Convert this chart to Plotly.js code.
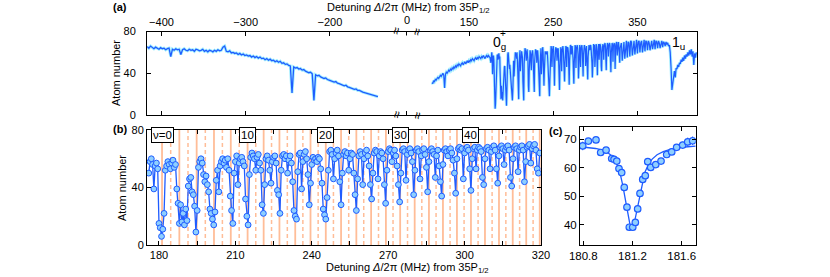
<!DOCTYPE html>
<html><head><meta charset="utf-8">
<script src="https://cdn.plot.ly/plotly-3.0.1.min.js"></script>
<style>html,body{margin:0;padding:0;background:#fff}#chart{width:830px;height:277px}</style>
</head><body><div id="chart"></div>
<script>
// ---------- DATA ----------
// Panel (a), left segment: detuning start / step (MHz) and atom numbers
const aLeftStart = -417, aLeftStep = 2;
const aLeftY = [
65.5,64,66,64.5,63.5,65,64,63,64.5,63.5,
64,62.5,63.5,64,56,63,62,63.5,62.5,63,
58,62.5,63.5,62,61.5,63,62,62.5,61,63,
62.5,61.5,62,63,61,62,60.5,62,61.5,60.5,
62,61,62.5,61.5,62,65,66,61,60.5,61.5,
59.5,60,59,59.5,58,59,57.5,58.5,57,57.5,
56.5,57,55.5,56.5,55,56,54.5,55.5,54,54.5,
53,54,52.5,53.5,52,52.5,51,52,50.5,51.5,
49.5,50,48.5,49,47.5,47,21,46,45,45.5,
44,44.5,43,43.5,42,41.5,40.5,41,39.5,14,
38.5,37.5,38,36.5,36,35,35.5,34,33.5,33,
32.5,31.5,32,30.5,30,29.5,29,28,28.5,27,
26.5,26,25.5,24.5,25,23.5,23.5,22.5,22,21.5,
21,20.5,20,19.5,19,18.5,18,17.5];
// Panel (a), right segment, low part (106..175 MHz, 1 MHz step)
const aRightLowStart = 106, aRightLowStep = 1;
const aRightLowY = [
31,30,33,32,34,33.5,35,36,35,37,
38,37,39,40,38,26,39,41,40,42,
43,42,44,43,45,44,46,45,47,46,
48,47,49,48,47,49,50,48,50,51,
49,51,52,50,52,51,53,52,54,53,
52,54,55,53,55,54,56,55,54,56,
55,57,56,54,56,57,55,57,56,55];
// Panel (a), right segment, high part (330..420 MHz, 1 MHz step)
const aRightHighStart = 330, aRightHighStep = 1;
const aRightHighY = [
67,69,52,68,70,54,69,71,55,70,
69,56,71,70,57,69,71,58,70,72,
59,70,71,60,69,71,60,70,72,61,
71,70,62,71,69,62,70,71,63,70,
72,63,71,70,64,71,69,64,70,71,
65,70,69,66,70,68,69,66,67,60,
45,24,30,38,42,36,45,44,48,46,
50,49,53,51,55,52,57,54,58,56,
60,57,62,58,63,56,61,48,59,55,60];
// Panel (b): high-resolution scan (176.0..329.5 MHz, 0.5 MHz step)
const bStart = 176.0, bStep = 0.5;
const bY = [
50,58,60,56,39,55,57,53,15,12,
6,11,22,52,55,58,56,53,57,59,
54,56,39,29,15,28,16,22,14,25,
17,41,46,47,37,35,27,9,24,54,
58,60,57,49,44,48,42,37,25,22,
18,14,23,45,52,37,55,58,60,57,
59,54,60,52,34,24,15,50,58,62,
42,57,60,61,58,55,32,20,14,49,
61,64,62,60,52,61,63,57,52,28,
22,42,60,62,59,52,43,58,61,62,
57,38,35,22,52,62,63,60,62,50,
59,62,57,44,24,20,18,51,63,64,
39,58,63,65,60,49,28,43,56,61,
59,60,58,61,60,53,43,25,21,18,
33,52,65,66,63,46,60,64,66,62,
44,28,50,63,65,62,64,52,60,64,
63,50,35,24,46,62,65,63,42,60,
64,66,62,55,42,32,50,64,66,65,
46,62,65,64,60,42,29,52,65,67,
66,58,64,66,62,55,42,30,50,66,
67,65,45,63,66,67,64,58,35,52,
66,67,65,46,62,66,67,63,54,37,
58,66,67,65,63,47,62,66,55,44,
34,56,66,67,65,62,66,67,64,59,
50,36,60,67,68,66,67,46,64,67,
68,66,53,38,60,67,68,53,66,68,
67,65,47,42,60,67,68,66,53,65,
68,69,66,53,43,62,68,69,67,56,
66,68,69,66,47,41,60,68,69,67,
51,66,68,69,66,44,58,68,69,70,
57,67,69,70,66,53,50,64];
// Vibrational level positions nu = 0..50 (MHz)
const nuPos = [181.2,184.6,188.0,191.4,194.8,198.2,201.6,204.9,208.2,211.5,
214.8,218.0,221.1,224.2,227.3,230.4,233.5,236.5,239.5,242.5,
245.5,248.5,251.5,254.5,257.5,260.4,263.3,266.2,269.1,271.9,
274.7,277.6,280.4,283.2,286.0,288.8,291.5,294.3,297.0,299.8,
302.5,305.3,308.0,310.8,313.5,316.2,318.9,321.6,324.2,326.9,329.5];
const nuLabels = ["ν=0","10","20","30","40"];
const nuLabelIdx = [0,10,20,30,40];
// Panel (c): single line scan
const cX = [180.795,180.841,180.903,180.941,180.985,181.031,181.05,181.072,181.09,181.112,
181.133,181.155,181.174,181.202,181.223,181.242,181.261,181.283,181.304,181.324,
181.348,181.389,181.432,181.478,181.519,181.559,181.608,181.649,181.689];
const cY = [67.6,69.3,69.7,65.3,66.1,63.2,62.9,62.3,59.7,58.3,
53.1,46.2,39.2,39.2,40.9,45.6,51.0,55.9,57.2,62.1,
60.1,61.1,62.3,64.6,65.5,67.1,67.9,69.0,69.4];
const cErr = [1.5,0.8,0.8,1.0,0.8,1.0,0.8,0.8,0.8,1.0,
1.0,1.0,0.8,0.8,0.8,1.0,1.0,1.0,0.8,1.0,
0.8,0.8,0.8,1.2,1.0,1.0,1.2,1.5,1.5];
const cFitX = [180.773,180.8,180.85,180.9,180.95,181.0,181.03,181.06,181.08,181.1,
181.12,181.14,181.16,181.18,181.19,181.2,181.22,181.24,181.26,181.28,
181.3,181.33,181.36,181.4,181.45,181.5,181.55,181.6,181.65,181.714];
const cFitY = [67.3,67.2,67.0,66.7,66.2,65.2,64.2,62.5,60.6,57.8,
54.0,49.0,43.8,40.0,39.3,39.5,41.8,46.0,51.0,55.3,
58.3,61.2,63.0,64.5,65.6,66.3,66.8,67.1,67.3,67.5];
// Tick labels
const aLeftTicks = [-400,-300,-200];
const aRightTicks = [150,250,350];
const bTickVals = [180,195,210,225,240,255,270,285,300,315,330];
const bTickText = ["180","","210","","240","","270","","300","","320"];
const cTickVals = [180.8,181.2,181.6];

// ---------- BUILD ----------
const W=830,H=277;
const fx = p => p/W, fy = p => 1-p/H;
const grid = (s,st,n) => Array.from({length:n},(_,i)=>+(s+st*i).toFixed(3));
const aLeftX = grid(aLeftStart,aLeftStep,aLeftY.length);
const bX = grid(bStart,bStep,bY.length);
const aRightX = grid(aRightLowStart,aRightLowStep,aRightLowY.length)
  .concat(bX).concat(grid(aRightHighStart,aRightHighStep,aRightHighY.length));
const aRightY = aRightLowY.concat(bY).concat(aRightHighY);

const BLUE='#1f5cff', BAND='#a4eeff', FILL='#8ecfff', ORANGE='#ffbd98';
const FONT='Liberation Sans, Arial, sans-serif';
const tf={family:FONT,size:11,color:'#000'};

const traces=[
 {x:aLeftX,y:aLeftY,xaxis:'x',yaxis:'y',mode:'lines',line:{color:BAND,width:3},hoverinfo:'skip'},
 {x:aLeftX,y:aLeftY,xaxis:'x',yaxis:'y',mode:'lines',line:{color:BLUE,width:1.3}},
 {x:aRightX,y:aRightY,xaxis:'x2',yaxis:'y2',mode:'lines',line:{color:BAND,width:3},hoverinfo:'skip'},
 {x:aRightX,y:aRightY,xaxis:'x2',yaxis:'y2',mode:'lines',line:{color:BLUE,width:1.2}},
 {x:bX,y:bY,xaxis:'x3',yaxis:'y3',mode:'lines+markers',line:{color:BLUE,width:1.3},
  marker:{symbol:'circle',size:5.8,color:FILL,line:{color:BLUE,width:1}}},
 {x:cFitX,y:cFitY,xaxis:'x4',yaxis:'y4',mode:'lines',line:{color:BLUE,width:1.3}},
 {x:cX,y:cY,xaxis:'x4',yaxis:'y4',mode:'markers',
  error_y:{type:'data',array:cErr,visible:true,color:BLUE,thickness:1,width:0},
  marker:{symbol:'circle',size:6.5,color:FILL,line:{color:BLUE,width:1.2}}}
];

const ax = (o)=>Object.assign({showline:true,linecolor:'#000',linewidth:1,ticks:'inside',ticklen:4,
  tickcolor:'#000',showgrid:false,zeroline:false,tickfont:tf,fixedrange:true},o);

const dA=[fy(115),fy(31.5)], dB=[fy(245),fy(130)], dC=[fy(245),fy(127.3)];
const layout={
 width:W,height:H,margin:{l:0,r:0,t:0,b:0},paper_bgcolor:'#fff',plot_bgcolor:'rgba(0,0,0,0)',
 showlegend:false,font:{family:FONT,size:11,color:'#000'},
 xaxis:ax({domain:[fx(147),fx(401)],range:[-417.2,-115.6],anchor:'y',side:'top',mirror:'ticks',tickmode:'array',tickvals:aLeftTicks}),
 xaxis2:ax({domain:[fx(401),fx(697)],range:[69.2,420.8],anchor:'y2',side:'top',mirror:'ticks',tickmode:'array',tickvals:aRightTicks}),
 yaxis:ax({domain:dA,range:[0,80],anchor:'x',tickvals:[0,40,80],mirror:false,ticklabelstandoff:8}),
 yaxis2:ax({domain:dA,range:[0,80],anchor:'x2',side:'right',tickvals:[0,40,80],showticklabels:false,mirror:false}),
 xaxis3:ax({domain:[fx(147),fx(541)],range:[175.3,330.0],anchor:'y3',mirror:'ticks',tickmode:'array',tickvals:bTickVals,ticktext:bTickText}),
 yaxis3:ax({domain:dB,range:[0,80],anchor:'x3',tickvals:[0,40,80],mirror:'ticks'}),
 xaxis4:ax({domain:[fx(580),fx(695.7)],range:[180.773,181.714],anchor:'y4',mirror:'ticks',tickmode:'array',tickvals:cTickVals,ticktext:['180.8','181.2','181.6'],tickfont:{family:FONT,size:11.5,color:'#000'}}),
 yaxis4:ax({domain:dC,range:[33,74.1],anchor:'x4',tickvals:[40,50,60,70],mirror:'ticks',tickfont:{family:FONT,size:11.5,color:'#000'}}),
 shapes:[],annotations:[]
};
// orange level lines
nuPos.forEach((p,i)=>layout.shapes.push({type:'line',xref:'x3',yref:'y3 domain',x0:p,x1:p,y0:0,y1:1,layer:'below',
  line:{color:ORANGE,width:i%2===0?1.8:1.5,dash:i%2===0?'solid':'4px,3px'}}));
// "0" tick in the break of panel (a)
layout.shapes.push({type:'line',xref:'paper',yref:'paper',x0:fx(406.5),x1:fx(406.5),y0:fy(31.5),y1:fy(35.5),line:{color:'#000',width:1}});
layout.shapes.push({type:'line',xref:'paper',yref:'paper',x0:fx(406.5),x1:fx(406.5),y0:fy(111),y1:fy(115),line:{color:'#000',width:1}});

const A=(t,x,y,o)=>layout.annotations.push(Object.assign({text:t,xref:'paper',yref:'paper',x:fx(x),y:fy(y),
  showarrow:false,xanchor:'center',yanchor:'middle',font:tf},o||{}));
A('<b>(a)</b>',120,7);
A('<b>(b)</b>',120,129);
A('<b>(c)</b>',556,131);
A('Detuning <i>Δ</i>/2π (MHz) from 35P<sub>1/2</sub>',408,8);
A('Detuning <i>Δ</i>/2π (MHz) from 35P<sub>1/2</sub>',407,268);
A('Atom number',116,73,{textangle:-90});
A('Atom number',122,188,{textangle:-90});
A('0',406.5,20);
// break glyphs
[[396,31.5],[417,31.5],[396,115],[417,115]].forEach(([x,y])=>A('≈',x,y,{textangle:-78,font:{family:FONT,size:13,color:'#000'}}));
A('0<sub>g</sub>',491,43,{xanchor:'left',font:{family:FONT,size:14,color:'#000'}});
A('+',503,34,{font:{family:FONT,size:10,color:'#000'}});
A('1<sub>u</sub>',670,43,{xanchor:'left',font:{family:FONT,size:14,color:'#000'}});
// nu labels (boxes) on level lines
nuLabelIdx.forEach((k,j)=>layout.annotations.push({text:nuLabels[j],xref:'x3',yref:'paper',x:nuPos[k],y:fy(134.5),
  showarrow:false,xanchor:'center',yanchor:'middle',font:{family:FONT,size:11.5,color:'#000'},
  bgcolor:'#fff',bordercolor:'#000',borderwidth:1,borderpad:1}));

Plotly.newPlot('chart',traces,layout,{staticPlot:true,displayModeBar:false});
</script></body></html>
